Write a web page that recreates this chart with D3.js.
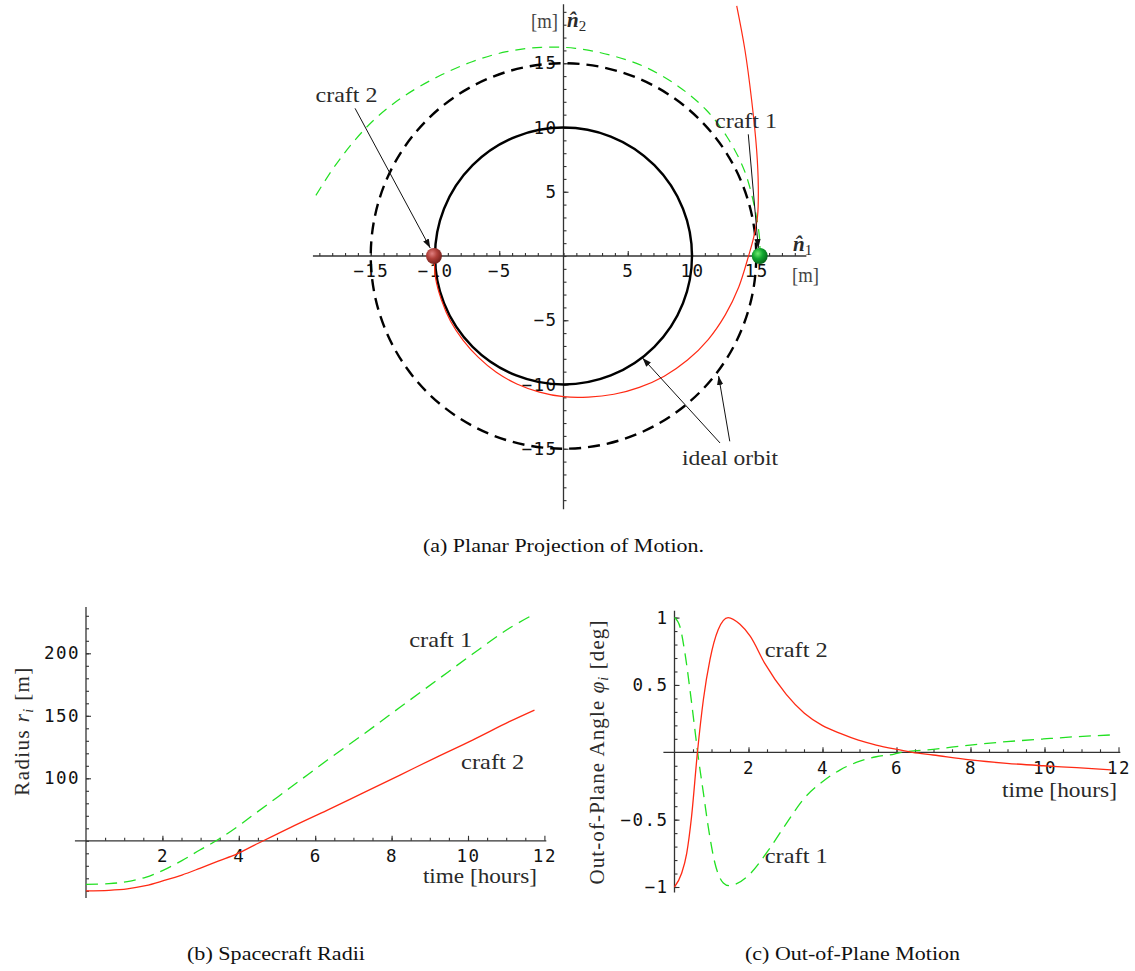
<!DOCTYPE html>
<html>
<head>
<meta charset="utf-8">
<script src="https://cdn.jsdelivr.net/npm/d3@7"></script>
<style>
    body { margin: 0; background: #fff; }
    svg { display: block; }
    .tick text { font-family: "DejaVu Sans Mono", monospace; font-size: 17.5px; fill: #111; letter-spacing: 1.5px; }
    .tick line { stroke: #333; stroke-width: 1.1; }
    .lbl { font-family: "Liberation Serif", "Times New Roman", serif; fill: #2a2a2a; }
    .cap { font-family: "Liberation Serif", "Times New Roman", serif; fill: #111; }
</style>
</head>
<body>
<svg id="fig" width="1135" height="971"></svg>
<script>
// ---------------------------------------------------------------------------
// DATA
// ---------------------------------------------------------------------------

// (a) planar projection, metres
const idealRadii = [10, 15];                       // solid, dashed ideal orbits
const craft1Start = [15.27, 0];
const craft2Start = [-10.08, 0];

const craft1PathX = [15.27, 15.27, 14.86, 14.06, 12.72, 11.11, 8.97, 6.30, 3.61, 0.93, -1.75, -4.43, -7.11, -9.79, -12.47, -14.61, -16.22, -17.83, -19.49];
const craft1PathY = [0.00, 1.25, 3.84, 6.69, 9.28, 11.36, 13.18, 14.73, 15.64, 16.16, 16.24, 15.90, 15.12, 13.95, 12.40, 10.72, 9.03, 6.95, 4.36];

const craft2PathX = [-10.05, -9.95, -9.49, -8.79, -7.81, -6.62, -5.23, -3.63, -1.87, 0.00, 1.94, 3.92, 5.90, 7.84, 9.65, 11.26, 12.59, 13.64, 14.40, 14.80, 15.10, 15.16, 15.03, 14.64, 14.12, 13.48];
const craft2PathY = [0.00, -1.75, -3.45, -5.08, -6.56, -7.89, -9.05, -9.96, -10.59, -10.95, -10.98, -10.76, -10.22, -9.35, -8.10, -6.50, -4.58, -2.41, 0.00, 1.45, 3.10, 5.39, 8.25, 12.14, 16.03, 19.46];

const planarTicks = [-15, -10, -5, 5, 10, 15];

// (b) spacecraft radii
const radiusHours = [0, 0.60, 1.08, 1.56, 2.03, 2.51, 2.98, 3.46, 3.94, 4.41, 5.36, 6.32, 7.27, 8.22, 9.17, 10.12, 11.08, 11.74];
const radiusCraft1 = [15.2, 15.7, 17.3, 20.8, 26.6, 34.1, 42.6, 51.0, 60.8, 71.4, 92.8, 114.6, 135.4, 156.8, 178.1, 199.4, 220.0, 231.4];
const radiusCraft2 = [10.0, 10.4, 11.5, 14.1, 18.1, 22.6, 28.0, 33.8, 39.4, 46.5, 60.8, 74.6, 88.5, 102.6, 116.8, 130.6, 145.3, 154.6];
const radiusTicks = [100, 150, 200];

// (c) out-of-plane angle, degrees
const phiHours1 = [0, 0.15, 0.28, 0.42, 0.55, 0.64, 0.78, 0.91, 1.09, 1.32, 1.47, 2.05, 2.53, 3.02, 3.51, 3.99, 4.48, 4.97, 5.45, 5.94, 6.15, 6.99, 7.99, 8.98, 9.97, 10.87, 11.80];
const phiCraft1 = [1.0, 0.93, 0.74, 0.46, 0.17, -0.03, -0.30, -0.55, -0.82, -0.97, -0.99, -0.90, -0.73, -0.53, -0.34, -0.22, -0.13, -0.07, -0.033, -0.013, 0.0, 0.022, 0.054, 0.079, 0.099, 0.116, 0.129];
const phiHours2 = [0, 0.19, 0.33, 0.46, 0.62, 0.78, 0.96, 1.18, 1.45, 1.77, 2.05, 2.44, 3.02, 3.51, 3.99, 4.48, 4.97, 5.45, 5.94, 6.43, 6.99, 7.99, 8.98, 9.97, 10.87, 11.80];
const phiCraft2 = [-1.0, -0.90, -0.75, -0.48, 0.0, 0.39, 0.69, 0.91, 1.0, 0.95, 0.86, 0.66, 0.43, 0.29, 0.20, 0.14, 0.09, 0.054, 0.025, 0.0, -0.02, -0.057, -0.082, -0.10, -0.114, -0.13];
const phiTicks = [-1, -0.5, 0.5, 1];

const hourTicks = [2, 4, 6, 8, 10, 12];

const RED = '#ff2a14';
const GREEN = '#22e022';

// ---------------------------------------------------------------------------
// SETUP
// ---------------------------------------------------------------------------
const svg = d3.select('#fig');
const defs = svg.append('defs');

defs.append('marker')
    .attr('id', 'arrow')
    .attr('viewBox', '0 0 10 10')
    .attr('refX', 10).attr('refY', 5)
    .attr('markerWidth', 9).attr('markerHeight', 9)
    .attr('markerUnits', 'userSpaceOnUse')
    .attr('orient', 'auto')
    .append('path')
    .attr('d', 'M0,1.5 L10,5 L0,8.5 Z')
    .attr('fill', '#111');

function ballGradient(id, hi, mid, lo) {
    const g = defs.append('radialGradient').attr('id', id)
        .attr('cx', '38%').attr('cy', '35%').attr('r', '70%');
    g.append('stop').attr('offset', '0%').attr('stop-color', hi);
    g.append('stop').attr('offset', '45%').attr('stop-color', mid);
    g.append('stop').attr('offset', '100%').attr('stop-color', lo);
}
ballGradient('ballRed', '#e08080', '#b0403a', '#6e1c18');
ballGradient('ballGreen', '#6fe86f', '#12a830', '#05601a');

// helper: axis with major + minor ticks, no domain path
function drawAxis(g, axisFn, scale, major, minor, fmt, majorLen, minorLen, pad) {
    g.append('g').call(axisFn(scale).tickValues(minor).tickSize(-minorLen).tickFormat(''))
        .call(s => s.select('.domain').remove());
    g.append('g').call(axisFn(scale).tickValues(major).tickSize(-majorLen).tickPadding(pad).tickFormat(fmt))
        .call(s => s.select('.domain').remove());
}

function axisLine(x1, y1, x2, y2) {
    svg.append('line')
        .attr('x1', x1).attr('y1', y1).attr('x2', x2).attr('y2', y2)
        .attr('stroke', '#333').attr('stroke-width', 1.3);
}

function serifText(x, y, str, size, width) {
    const t = svg.append('text').attr('class', 'lbl')
        .attr('x', x).attr('y', y)
        .style('font-size', size + 'px')
        .text(str);
    if (width) t.attr('textLength', width).attr('lengthAdjust', 'spacingAndGlyphs');
    return t;
}

function caption(x, y, str, width) {
    svg.append('text').attr('class', 'cap')
        .attr('x', x).attr('y', y)
        .style('font-size', '19px')
        .attr('textLength', width).attr('lengthAdjust', 'spacingAndGlyphs')
        .text(str);
}

// ---------------------------------------------------------------------------
// (a) PLANAR PROJECTION
// ---------------------------------------------------------------------------
const px = d3.scaleLinear().domain([-20, 20]).range([563.5 - 257, 563.5 + 257]);
const py = d3.scaleLinear().domain([-20, 20]).range([256 + 257, 256 - 257]);

axisLine(px(-19.5), py(0), px(18.9), py(0));
axisLine(px(0), py(19.6), px(0), py(-19.7));

drawAxis(svg.append('g').attr('transform', `translate(0,${py(0)})`), d3.axisBottom, px,
    planarTicks, d3.range(-19, 19), d3.format(''), 5, 3, 9);
drawAxis(svg.append('g').attr('transform', `translate(${px(0)},0)`), d3.axisLeft, py,
    planarTicks, d3.range(-19, 20), d3.format(''), 5, 3, 6);

// ideal orbits
svg.selectAll('.ideal')
    .data(idealRadii)
    .enter()
    .append('circle')
    .attr('class', 'ideal')
    .attr('cx', px(0)).attr('cy', py(0))
    .attr('r', d => px(d) - px(0))
    .attr('fill', 'none')
    .attr('stroke', '#000')
    .attr('stroke-width', 2.4)
    .attr('stroke-dasharray', (d, i) => i === 0 ? null : '12,7');

const planarLine = d3.line()
    .x(d => px(d[0])).y(d => py(d[1]))
    .curve(d3.curveCatmullRom);

svg.append('path')
    .datum(d3.zip(craft1PathX, craft1PathY))
    .attr('d', planarLine)
    .attr('fill', 'none')
    .attr('stroke', GREEN)
    .attr('stroke-width', 1.2)
    .attr('stroke-dasharray', '10,7');

svg.append('path')
    .datum(d3.zip(craft2PathX, craft2PathY))
    .attr('d', planarLine)
    .attr('fill', 'none')
    .attr('stroke', RED)
    .attr('stroke-width', 1.2);

// spacecraft
svg.append('circle').attr('cx', px(craft2Start[0])).attr('cy', py(craft2Start[1])).attr('r', 8)
    .attr('fill', 'url(#ballRed)');
svg.append('circle').attr('cx', px(craft1Start[0])).attr('cy', py(craft1Start[1])).attr('r', 8)
    .attr('fill', 'url(#ballGreen)');

// annotations (data units)
const arrows = [
    [[-16.22, 11.49], [-10.37, 0.62]],
    [[14.38, 9.47], [15.16, 0.62]],
    [[12.18, -14.55], [6.15, -7.94]],
    [[12.94, -14.42], [12.07, -9.34]]
];
svg.selectAll('.arrow')
    .data(arrows)
    .enter()
    .append('line')
    .attr('class', 'arrow')
    .attr('x1', d => px(d[0][0])).attr('y1', d => py(d[0][1]))
    .attr('x2', d => px(d[1][0])).attr('y2', d => py(d[1][1]))
    .attr('stroke', '#111')
    .attr('stroke-width', 1)
    .attr('marker-end', 'url(#arrow)');

serifText(px(-19.3), py(12.0), 'craft 2', 21, 62);
serifText(px(11.79), py(9.94), 'craft 1', 21, 62);
serifText(px(9.22), py(-16.26), 'ideal orbit', 21, 96);

// axis names
serifText(531, 28, '[m]', 20, 27).style('fill', '#444');
const n2 = svg.append('text').attr('class', 'lbl').attr('x', 567).attr('y', 27).style('font-size', '21px');
n2.append('tspan').style('font-weight', 'bold').style('font-style', 'italic').text('n\u0302');
n2.append('tspan').attr('dy', 4).style('font-size', '15px').text('2');
const n1 = svg.append('text').attr('class', 'lbl').attr('x', 793).attr('y', 251).style('font-size', '21px');
n1.append('tspan').style('font-weight', 'bold').style('font-style', 'italic').text('n\u0302');
n1.append('tspan').attr('dy', 4).style('font-size', '15px').text('1');
serifText(792, 282, '[m]', 20, 27).style('fill', '#444');

caption(423, 552, '(a) Planar Projection of Motion.', 281);

// ---------------------------------------------------------------------------
// (b) SPACECRAFT RADII
// ---------------------------------------------------------------------------
const bx = d3.scaleLinear().domain([0, 12]).range([86, 544.4]);
const by = d3.scaleLinear().domain([50, 200]).range([840.8, 653.3]);

axisLine(bx(-0.29), by(50), bx(12.05), by(50));
axisLine(bx(0), by(237), bx(0), by(4.2));

drawAxis(svg.append('g').attr('transform', `translate(0,${by(50)})`), d3.axisBottom, bx,
    hourTicks, d3.range(0.5, 12, 0.5), d3.format(''), 5, 3, 9);
drawAxis(svg.append('g').attr('transform', `translate(${bx(0)},0)`), d3.axisLeft, by,
    radiusTicks, d3.range(10, 240, 10), d3.format(''), 5, 3, 6);

const radiusLine = (vals) => d3.line()
    .x((d, i) => bx(radiusHours[i]))
    .y(d => by(d))
    .curve(d3.curveCatmullRom)(vals);

svg.append('path')
    .attr('d', radiusLine(radiusCraft1))
    .attr('fill', 'none').attr('stroke', GREEN).attr('stroke-width', 1.3)
    .attr('stroke-dasharray', '12,7');
svg.append('path')
    .attr('d', radiusLine(radiusCraft2))
    .attr('fill', 'none').attr('stroke', RED).attr('stroke-width', 1.3);

serifText(bx(8.46), by(205), 'craft 1', 21, 63);
serifText(bx(9.82), by(107.4), 'craft 2', 21, 63);
serifText(bx(8.82), by(16), 'time [hours]', 21, 114);

const rLab = svg.append('text').attr('class', 'lbl')
    .attr('transform', 'translate(29,731) rotate(-90)')
    .attr('text-anchor', 'middle')
    .style('font-size', '21px')
    .style('letter-spacing', '1.4px');
rLab.append('tspan').text('Radius ');
rLab.append('tspan').style('font-style', 'italic').text('r');
rLab.append('tspan').attr('dy', 4).style('font-size', '14px').style('font-style', 'italic').text('i');
rLab.append('tspan').attr('dy', -4).text(' [m]');

caption(187, 960, '(b) Spacecraft Radii', 178);

// ---------------------------------------------------------------------------
// (c) OUT-OF-PLANE MOTION
// ---------------------------------------------------------------------------
const cx = d3.scaleLinear().domain([0, 12]).range([674.5, 1118.5]);
const cy = d3.scaleLinear().domain([-1, 1]).range([887, 617.6]);

axisLine(cx(-0.3), cy(0), cx(12.05), cy(0));
axisLine(cx(0), cy(1.05), cx(0), cy(-1.04));

drawAxis(svg.append('g').attr('transform', `translate(0,${cy(0)})`), d3.axisBottom, cx,
    hourTicks, d3.range(0.5, 12, 0.5), d3.format(''), 5, 3, 9);
drawAxis(svg.append('g').attr('transform', `translate(${cx(0)},0)`), d3.axisLeft, cy,
    phiTicks, d3.range(-10, 11).filter(v => v !== 0).map(v => v / 10), d3.format(''), 5, 3, 6);

const phiLine = d3.line()
    .x(d => cx(d[0])).y(d => cy(d[1]))
    .curve(d3.curveMonotoneX);

svg.append('path')
    .datum(d3.zip(phiHours1, phiCraft1))
    .attr('d', phiLine)
    .attr('fill', 'none').attr('stroke', GREEN).attr('stroke-width', 1.3)
    .attr('stroke-dasharray', '12,7');
svg.append('path')
    .datum(d3.zip(phiHours2, phiCraft2))
    .attr('d', phiLine)
    .attr('fill', 'none').attr('stroke', RED).attr('stroke-width', 1.3);

serifText(cx(2.44), cy(0.71), 'craft 2', 21, 63);
serifText(cx(2.44), cy(-0.82), 'craft 1', 21, 63);
serifText(cx(8.85), cy(-0.33), 'time [hours]', 21, 115);

const pLab = svg.append('text').attr('class', 'lbl')
    .attr('transform', 'translate(604,752) rotate(-90)')
    .attr('text-anchor', 'middle')
    .style('font-size', '21px')
    .style('letter-spacing', '1.1px');
pLab.append('tspan').text('Out-of-Plane Angle ');
pLab.append('tspan').style('font-style', 'italic').text('\u03C6');
pLab.append('tspan').attr('dy', 4).style('font-size', '14px').style('font-style', 'italic').text('i');
pLab.append('tspan').attr('dy', -4).text(' [deg]');

caption(745, 960, '(c) Out-of-Plane Motion', 215);
</script>
</body>
</html>
